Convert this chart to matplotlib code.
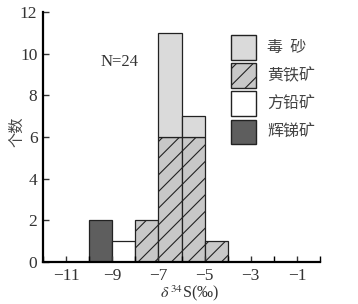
import numpy as np
import matplotlib
matplotlib.use('Agg')
from matplotlib import pyplot as plt
from matplotlib.patches import Patch
from matplotlib.ticker import MultipleLocator

# bin left edges (per mil) and counts per mineral
bins = [-10, -9, -8, -7, -6, -5]
pyrite = [0, 0, 2, 6, 6, 1]          # 黄铁矿
arsenopyrite = [0, 0, 0, 5, 1, 0]    # 毒砂
galena = [0, 1, 0, 0, 0, 0]          # 方铅矿
stibnite = [2, 0, 0, 0, 0, 0]        # 辉锑矿
labels = ['毒  砂', '黄铁矿', '方铅矿', '辉锑矿']

plt.rcParams['font.family'] = ['Liberation Serif', 'Noto Sans CJK SC']
plt.rcParams['mathtext.fontset'] = 'stix'
plt.rcParams['hatch.linewidth'] = 0.8

fig = plt.figure(figsize=(3.58, 3.04), dpi=100)
ax = fig.add_axes([0.120, 0.138, 0.774, 0.823])

x = np.array(bins)
pyr = np.array(pyrite)
ars = np.array(arsenopyrite)
gal = np.array(galena)
stb = np.array(stibnite)

kw = dict(width=1, align='edge', edgecolor='#222222', linewidth=0.9)
m = stb > 0
ax.bar(x[m], stb[m], color='#5e5e5e', **kw)
m = gal > 0
ax.bar(x[m], gal[m], color='white', **kw)
m = pyr > 0
ax.bar(x[m], pyr[m], color='#c8c8c8', hatch='//', **kw)
m = ars > 0
ax.bar(x[m], ars[m], bottom=pyr[m], color='#dadada', **kw)

ax.set_xlim(-12, 0)
ax.set_ylim(0, 12)
ax.set_xticks([-11, -9, -7, -5, -3, -1])
ax.set_xticklabels(['\u221211', '\u22129', '\u22127', '\u22125', '\u22123', '\u22121'])
ax.xaxis.set_minor_locator(MultipleLocator(1))
ax.set_yticks(range(0, 13, 2))
ax.tick_params(direction='in', length=4, width=1, labelsize=12.5, colors='#333333', pad=4)
ax.tick_params(which='minor', direction='in', length=4, width=1)
for s in ['top', 'right']:
    ax.spines[s].set_visible(False)
for s in ['left', 'bottom']:
    ax.spines[s].set_linewidth(1.6)

ax.set_xlabel('$\\delta^{\\,34}$S(\u2030)', fontsize=11.5, color='#333333')
ax.xaxis.set_label_coords(0.53, -0.085)
ax.set_ylabel('个数', fontsize=11, family=['Noto Sans CJK SC'], color='#444444')
ax.yaxis.set_label_coords(-0.065, 0.52)
ax.text(-8.7, 9.6, 'N=24', fontsize=12, ha='center', va='center', color='#333333')

handles = [Patch(facecolor='#dadada', edgecolor='#222222'),
           Patch(facecolor='#c8c8c8', edgecolor='#222222', hatch='//'),
           Patch(facecolor='white', edgecolor='#222222'),
           Patch(facecolor='#5e5e5e', edgecolor='#222222')]
leg = ax.legend(handles, labels, loc='upper right', bbox_to_anchor=(1.035, 0.965),
                frameon=False, handlelength=1.6, handleheight=2.0, labelspacing=0.22,
                handletextpad=0.7, prop={'family': 'Noto Sans CJK SC', 'size': 11.5})
for t in leg.get_texts():
    t.set_color('#444444')

fig.savefig('out.png', dpi=100)
